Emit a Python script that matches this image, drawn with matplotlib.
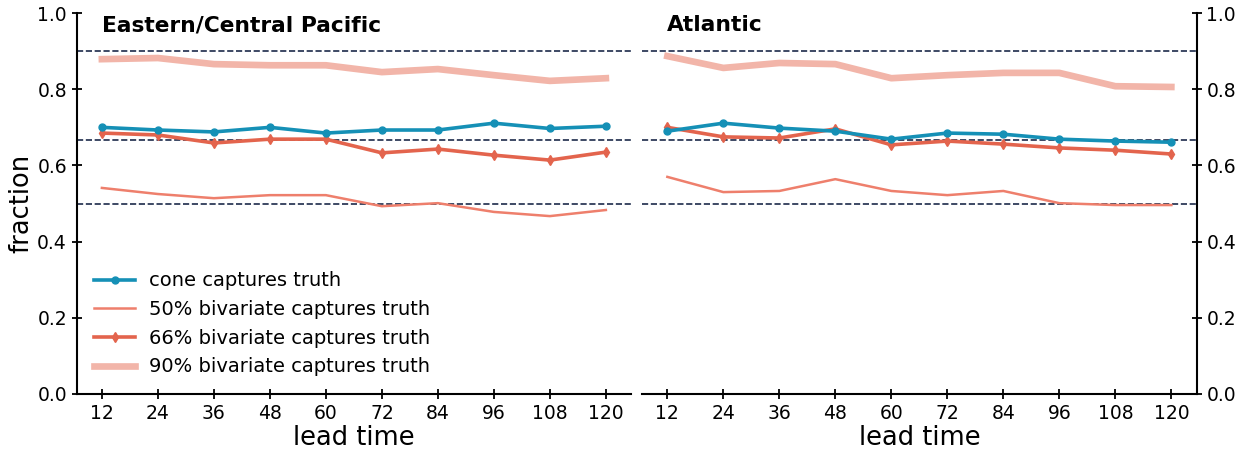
import numpy as np
import matplotlib
matplotlib.use('Agg')
from matplotlib import pyplot as plt

lead = [12, 24, 36, 48, 60, 72, 84, 96, 108, 120]
regions = ['Eastern/Central Pacific', 'Atlantic']

# eastern/central pacific
ep_cone = [0.700, 0.693, 0.688, 0.700, 0.685, 0.693, 0.693, 0.711, 0.697, 0.703]
ep_50 = [0.541, 0.525, 0.514, 0.522, 0.522, 0.493, 0.501, 0.478, 0.467, 0.483]
ep_66 = [0.685, 0.680, 0.659, 0.669, 0.669, 0.633, 0.643, 0.627, 0.614, 0.635]
ep_90 = [0.879, 0.882, 0.866, 0.863, 0.863, 0.845, 0.853, 0.837, 0.822, 0.829]

# atlantic
al_cone = [0.690, 0.711, 0.698, 0.690, 0.669, 0.685, 0.682, 0.669, 0.664, 0.661]
al_50 = [0.570, 0.530, 0.533, 0.564, 0.533, 0.522, 0.533, 0.501, 0.496, 0.496]
al_66 = [0.700, 0.675, 0.672, 0.696, 0.654, 0.664, 0.656, 0.646, 0.640, 0.630]
al_90 = [0.887, 0.856, 0.869, 0.866, 0.829, 0.837, 0.843, 0.843, 0.808, 0.806]

ref_levels = [0.9, 2/3, 0.5]

c_cone = '#1590b6'
c_50 = '#ee7f6c'
c_66 = '#e3644d'
c_90 = '#f2b5a9'

plt.rcParams['font.family'] = 'DejaVu Sans'
fig, axes = plt.subplots(1, 2, figsize=(12.49, 4.51), dpi=100)
fig.subplots_adjust(left=0.0614, right=0.958, bottom=0.1264, top=0.971, wspace=0.02)

data = [(ep_cone, ep_50, ep_66, ep_90), (al_cone, al_50, al_66, al_90)]

for i, ax in enumerate(axes):
    cone, b50, b66, b90 = data[i]
    for lv in ref_levels:
        ax.axhline(lv, color='#1c2a4a', ls='--', lw=1.2, zorder=1)
    ax.plot(lead, cone, color=c_cone, lw=2.6, marker='o', ms=5, label='cone captures truth', zorder=4)
    ax.plot(lead, b50, color=c_50, lw=1.8, label='50% bivariate captures truth', zorder=3)
    ax.plot(lead, b66, color=c_66, lw=2.6, marker='d', ms=5, label='66% bivariate captures truth', zorder=3)
    ax.plot(lead, b90, color=c_90, lw=4.8, label='90% bivariate captures truth', zorder=2)
    ax.set_ylim(0, 1)
    ax.set_xticks(lead)
    ax.set_yticks(np.arange(0, 1.01, 0.2))
    ax.set_xlabel('lead time', fontsize=18.5, labelpad=2)
    ax.tick_params(direction='inout', length=7, width=1.3, labelsize=13.5)
    ax.spines['top'].set_visible(False)
    for s in ['left', 'right', 'bottom']:
        ax.spines[s].set_linewidth(1.5)
    ax.text(0.045, 0.968, regions[i], transform=ax.transAxes, fontsize=15.7,
            fontweight='bold', va='center', ha='left')

axes[0].spines['right'].set_visible(False)
axes[0].set_ylabel('fraction', fontsize=18.5, labelpad=2)
axes[0].legend(loc='lower left', frameon=False, fontsize=14, bbox_to_anchor=(0.0, 0.0),
               handlelength=2.1, handletextpad=0.7, labelspacing=0.5)

axes[1].spines['left'].set_visible(False)
axes[1].yaxis.tick_right()
axes[1].yaxis.set_label_position('right')

plt.savefig('out.png', dpi=100)
